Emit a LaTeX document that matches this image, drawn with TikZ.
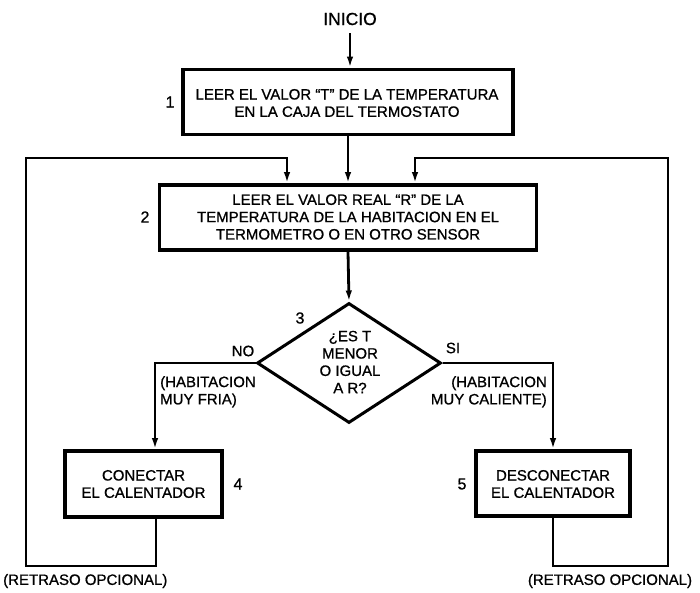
\documentclass[tikz,border=0pt]{standalone}
\usepackage{fontspec}
\setmainfont{Liberation Sans}[FakeBold=0.9]
\usetikzlibrary{shapes.geometric,arrows.meta}
\begin{document}
\begin{tikzpicture}[x=1pt,y=-1pt,
  txt/.style={font=\fontsize{15}{17.3}\selectfont, align=center, inner sep=0pt},
  num/.style={font=\fontsize{16}{16}\selectfont, inner sep=0pt},
  procbox/.style={draw, line width=3.8pt, inner sep=0pt},
  flow/.style={line width=2.8pt},
  arr/.style={flow, -{Latex[length=11pt,width=6.5pt]}}]
\useasboundingbox (0,0) rectangle (700,592);

% start label and process boxes
\node[txt, font=\fontsize{17.5}{18}\selectfont] (inicio) at (350,19) {INICIO};
\node[procbox, minimum width=330pt, minimum height=65pt] (b1) at (348,102) {};
\node[txt] (t1) at (347,103) {LEER EL VALOR ``T'' DE LA TEMPERATURA\\EN LA CAJA DEL TERMOSTATO};
\node[num] (n1) at (170,102) {1};

\node[procbox, minimum width=377pt, minimum height=65pt] (b2) at (348,217.5) {};
\node[txt] (t2) at (348,217) {LEER EL VALOR REAL ``R'' DE LA\\TEMPERATURA DE LA HABITACION EN EL\\TERMOMETRO O EN OTRO SENSOR};
\node[num] (n2) at (145,217) {2};

% decision
\node[draw, diamond, line width=3pt, minimum width=184pt, minimum height=120pt, inner sep=0pt] (d3) at (349,363) {};
\node[txt] (t3) at (350,362) {¿ES T\\MENOR\\O IGUAL\\A R?};
\node[num] (n3) at (300,318) {3};
\node[txt] (no) at (243,351) {NO};
\node[txt] (si) at (453,348) {SI};
\node[txt, anchor=north west, align=left] (fria) at (160,376) {(HABITACION\\MUY FRIA)};
\node[txt, anchor=north east, align=right] (caliente) at (547,376) {(HABITACION\\MUY CALIENTE)};

% heater actions
\node[procbox, minimum width=157pt, minimum height=66pt] (b4) at (143.5,484) {};
\node[txt] (t4) at (143.5,484) {CONECTAR\\EL CALENTADOR};
\node[num] (n4) at (238,484) {4};

\node[procbox, minimum width=154pt, minimum height=65pt] (b5) at (553,483.5) {};
\node[txt] (t5) at (553,484) {DESCONECTAR\\EL CALENTADOR};
\node[num] (n5) at (462,484) {5};

\node[txt, anchor=west] (r4) at (3,581) {(RETRASO OPCIONAL)};
\node[txt] (r5) at (610,581) {(RETRASO OPCIONAL)};

% loop corners
\coordinate (noc) at (155,363);
\coordinate (sic) at (553,363);
\coordinate (l1) at (156,566);
\coordinate (l2) at (26,566);
\coordinate (l3) at (26,158);
\coordinate (l4) at (287,158);
\coordinate (r1) at (553,566);
\coordinate (r2) at (668,566);
\coordinate (r3) at (668,158);
\coordinate (r4c) at (415,158);

% connectors
\draw[arr] (350,33) -- (b1.north -| 350,0);
\draw[arr] (b1.south) -- (b2.north);
\draw[arr] (b2.south) -- (d3.north);
\draw[arr] (d3.west) -- (noc) -- (b4.north -| noc);
\draw[arr] (d3.east) -- (sic) -- (b5.north);
\draw[arr] (b4.south -| l1) -- (l1) -- (l2) -- (l3) -- (l4) -- (b2.north -| l4);
\draw[arr] (b5.south) -- (r1) -- (r2) -- (r3) -- (r4c) -- (b2.north -| r4c);
\end{tikzpicture}
\end{document}
